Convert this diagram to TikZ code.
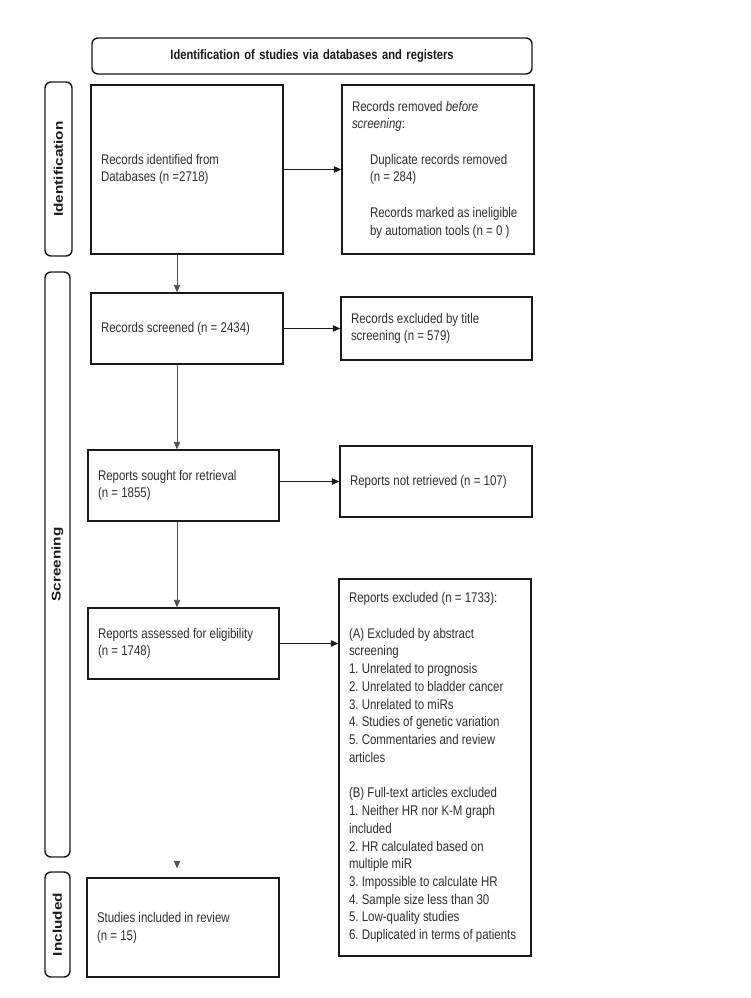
\documentclass[tikz,border=0pt]{standalone}
\usepackage{fontspec}
\setmainfont{Liberation Sans}[FakeStretch=0.82]
\newfontfamily\tabfont{Liberation Sans}
\usetikzlibrary{arrows.meta,calc}
\frenchspacing
\definecolor{pmInk}{HTML}{1A1A1A}
\definecolor{pmText}{HTML}{2E2E2E}
\definecolor{pmLine}{HTML}{505050}
\tikzset{
  box/.style      ={draw=pmInk,line width=1.1pt,fill=white,inner xsep=7.5pt,inner ysep=0pt,
                    align=flush left,text=pmText,font=\fontsize{10.5}{13.3}\selectfont},
  titlebox/.style ={box,rounded corners=4.5pt,align=center,text=pmInk,
                    font=\fontsize{10.2}{13}\selectfont\bfseries},
  tab/.style      ={draw=pmInk,line width=1.1pt,rounded corners=4.5pt,rotate=90,inner sep=0pt,
                    text=pmInk,font=\tabfont\fontsize{11.5}{13}\selectfont\bfseries},
  flow/.style     ={-{Triangle[length=5.5pt,width=4.8pt]},pmInk,line width=0.7pt},
  down/.style     ={flow,pmLine,line width=0.5pt},
}

\begin{document}
\begin{tikzpicture}[x=0.75pt,y=-0.75pt]
\useasboundingbox (0,0) rectangle (750,998);
\coordinate (spine) at (177,0);

% header and phase tabs
\node[titlebox,text width=315pt,minimum height=27pt] (title) at (312,56)
  {Identification of studies via databases and registers};
\node[tab,minimum width=130.5pt,minimum height=20.25pt] (idtab) at (58.5,169)
  {\scalebox{1}[0.82]{Identification}};
\node[tab,minimum width=438.75pt,minimum height=18.75pt] (scrtab) at (57.5,564.5)
  {\scalebox{1}[0.82]{Screening}};
\node[tab,minimum width=78.75pt,minimum height=18.75pt] (inctab) at (57.5,924.5)
  {\scalebox{1}[0.82]{Included}};

% left column
\node[box,text width=129pt,minimum height=126.75pt] (ident) at (187,169.5)
  {Records identified from\\Databases (n =2718)};
\node[box,text width=129pt,minimum height=53.25pt] (screened) at (187,328.5)
  {Records screened (n = 2434)};
\node[box,text width=128.25pt,minimum height=53.25pt] (sought) at (183.5,485.5)
  {Reports sought for retrieval\\(n = 1855)};
\node[box,text width=128.25pt,minimum height=53.25pt] (assessed) at (183.5,643.5)
  {Reports assessed for eligibility\\(n = 1748)};
\node[box,text width=129pt,minimum height=74.25pt] (incl) at (183,927.5)
  {Studies included in review\\(n = 15)};

% right column
\node[box,text width=129pt,minimum height=126.75pt] (removed) at (438,169.5)
  {Records removed \textit{before}\\\textit{screening}:\\[13.3pt]
   \hspace*{13.5pt}Duplicate records removed\\\hspace*{13.5pt}(n = 284)\\[13.3pt]
   \hspace*{13.5pt}Records marked as ineligible\\\hspace*{13.5pt}by automation tools (n = 0 )};
\node[box,text width=128.25pt,minimum height=47.25pt] (titleex) at (436.5,328.5)
  {Records excluded by title\\screening (n = 579)};
\node[box,text width=129pt,minimum height=53.25pt] (notret) at (436,481.5)
  {Reports not retrieved (n = 107)};
\node[box,text width=129pt,minimum height=282.75pt] (fullex) at (435,767.5)
  {Reports excluded (n = 1733):\\[13.4pt]
   (A) Excluded by abstract\\screening\\
   1. Unrelated to prognosis\\
   2. Unrelated to bladder cancer\\
   3. Unrelated to miRs\\
   4. Studies of genetic variation\\
   5. Commentaries and review\\articles\\[13.4pt]
   (B) Full-text articles excluded\\
   1. Neither HR nor K-M graph\\included\\
   2. HR calculated based on\\multiple miR\\
   3. Impossible to calculate HR\\
   4. Sample size less than 30\\
   5. Low-quality studies\\
   6. Duplicated in terms of patients};

% connectors
\draw[flow] (ident.east) -- (removed.west);
\draw[flow] (screened.east) -- (titleex.west);
\draw[flow] (sought.east |- notret.west) -- (notret.west);
\draw[flow] (assessed.east) -- (assessed.east -| fullex.west);
\draw[down] (ident.south -| spine) -- (screened.north -| spine);
\draw[down] (screened.south -| spine) -- (sought.north -| spine);
\draw[down] (sought.south -| spine) -- (assessed.north -| spine);
\draw[down,shorten <=137.25pt,shorten >=6.75pt] (assessed.south -| spine) -- (incl.north -| spine);
\end{tikzpicture}
\end{document}
